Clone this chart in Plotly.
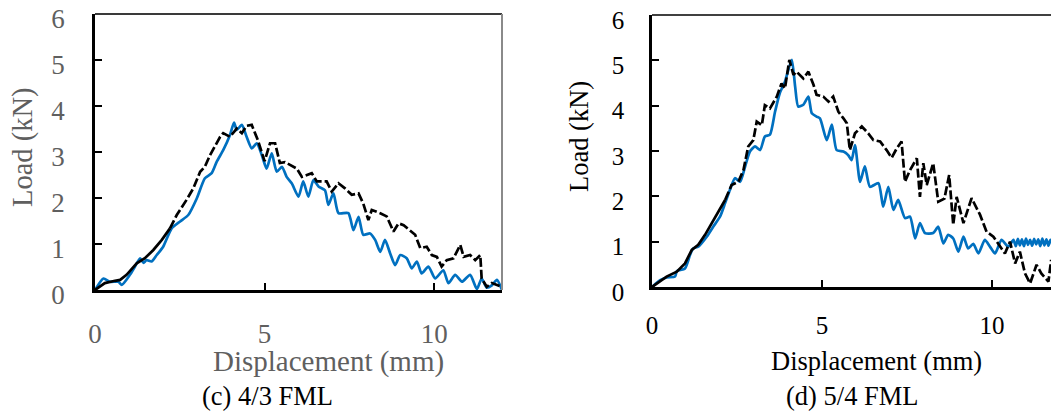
import plotly.graph_objects as go

# ---------------- data: panel (c) 4/3 FML ----------------
c_black_x = [0, 0.29, 0.59, 0.74, 0.93, 1.23, 1.47, 1.72, 1.97, 2.21, 2.41, 2.7, 2.9, 3.1, 3.24, 3.39,
             3.54, 3.69, 3.78, 3.98, 4.18, 4.33, 4.47, 4.62, 4.8, 5.0, 5.16, 5.31, 5.45, 5.6, 5.75, 5.95,
             6.1, 6.39, 6.54, 6.83, 6.98, 7.18, 7.37, 7.57, 7.77, 7.91, 8.06, 8.16, 8.41, 8.6, 8.8, 8.95,
             9.1, 9.29, 9.44, 9.59, 9.78, 9.93, 10.08, 10.22, 10.37, 10.57, 10.77, 10.87, 11.06, 11.21,
             11.36, 11.4, 11.55, 11.7, 11.85, 12.0]
c_black_y = [0, 0.15, 0.2, 0.22, 0.33, 0.58, 0.69, 0.87, 1.09, 1.34, 1.63, 1.96, 2.21, 2.57, 2.68, 2.93,
             3.12, 3.33, 3.41, 3.33, 3.51, 3.41, 3.57, 3.59, 3.26, 2.8, 3.19, 3.19, 2.76, 2.78, 2.72, 2.64,
             2.46, 2.54, 2.36, 2.36, 2.14, 2.32, 2.21, 2.07, 2.1, 1.88, 1.52, 1.74, 1.67, 1.6, 1.27, 1.45,
             1.41, 1.3, 1.2, 0.91, 0.94, 0.76, 0.72, 0.51, 0.65, 0.69, 0.98, 0.72, 0.76, 0.65,
             0.76, 0.25, 0.07, 0.15, 0.11, 0.07]
c_blue_x = [0, 0.25, 0.44, 0.69, 0.79, 1.03, 1.18, 1.33, 1.43, 1.52, 1.67, 1.82, 2.01, 2.26, 2.51, 2.75,
            3.0, 3.24, 3.44, 3.59, 3.78, 3.98, 4.1, 4.18, 4.33, 4.47, 4.62, 4.77, 4.92, 5.06, 5.21, 5.36,
            5.51, 5.65, 5.8, 6.0, 6.14, 6.29, 6.44, 6.59, 6.78, 6.88, 7.03, 7.18, 7.47, 7.62, 7.77, 7.91,
            8.11, 8.26, 8.41, 8.55, 8.7, 8.85, 9.0, 9.19, 9.34, 9.49, 9.63, 9.83, 10.03, 10.27, 10.42,
            10.62, 10.82, 11.06, 11.26, 11.4, 11.55, 11.7, 11.85, 12.0]
c_blue_y = [0, 0.25, 0.18, 0.18, 0.11, 0.33, 0.51, 0.69, 0.59, 0.65, 0.62, 0.76, 0.94, 1.34, 1.49, 1.63,
            1.99, 2.43, 2.54, 2.79, 3.04, 3.37, 3.64, 3.48, 3.59, 3.33, 3.08, 3.19, 2.93, 2.64, 2.97, 2.57,
            2.68, 2.46, 2.32, 2.03, 2.36, 2.03, 2.39, 2.25, 2.17, 1.85, 2.1, 1.67, 1.67, 1.3, 1.59, 1.2,
            1.23, 1.09, 0.83, 1.09, 0.8, 0.54, 0.76, 0.69, 0.47, 0.62, 0.36, 0.51, 0.25, 0.43, 0.15,
            0.33, 0.18, 0.33, 0.02, 0.25, 0.05, 0.1, 0.22, 0.0]

# ---------------- data: panel (d) 5/4 FML ----------------
d_black_x = [0, 0.43, 0.73, 0.97, 1.17, 1.36, 1.56, 1.75, 1.95, 2.15, 2.34, 2.54, 2.69, 2.83, 2.98, 3.08,
             3.23, 3.32, 3.47, 3.67, 3.81, 3.91, 4.04, 4.16, 4.25, 4.45, 4.6, 4.75, 4.84, 5.04, 5.19, 5.33,
             5.48, 5.63, 5.73, 5.82, 5.97, 6.17, 6.36, 6.51, 6.71, 6.9, 7.05, 7.2, 7.34, 7.44, 7.59, 7.79,
             7.88, 7.98, 8.08, 8.27, 8.42, 8.6, 8.74, 8.86, 8.96, 9.16, 9.4, 9.65, 9.84, 10.04, 10.24,
             10.38, 10.53, 10.68, 10.82, 10.97, 11.12, 11.31, 11.45, 11.66, 11.74]
d_black_y = [0, 0.23, 0.34, 0.52, 0.82, 0.93, 1.15, 1.4, 1.66, 1.92, 2.25, 2.32, 2.58, 3.1, 3.24, 3.65,
             3.57, 4.01, 3.94, 4.2, 4.49, 4.38, 5.01, 4.68, 4.75, 4.6, 4.75, 4.46, 4.24, 4.2, 4.09, 4.2,
             3.87, 3.72, 3.61, 3.02, 3.39, 3.54, 3.39, 3.24, 3.21, 3.02, 2.85, 3.06, 3.21, 2.32, 2.58, 2.84,
             1.99, 2.73, 2.25, 2.73, 1.88, 1.95, 2.47, 1.37, 1.99, 1.41, 1.96, 1.59, 1.22, 1.11, 0.89,
             0.74, 1.0, 0.52, 0.78, 0.3, 0.08, 0.49, 0.3, 0.12, 0.6]
d_blue_x = [0, 0.24, 0.43, 0.68, 0.73, 0.97, 1.12, 1.21, 1.36, 1.61, 1.8, 2.0, 2.15, 2.29, 2.44, 2.59,
            2.74, 2.88, 3.03, 3.18, 3.32, 3.47, 3.62, 3.76, 3.91, 4.11, 4.21, 4.3, 4.45, 4.6, 4.7, 4.84,
            4.94, 5.14, 5.29, 5.43, 5.63, 5.77, 5.87, 5.97, 6.12, 6.26, 6.41, 6.66, 6.8, 6.95, 7.1, 7.24,
            7.44, 7.59, 7.74, 7.88, 8.03, 8.27, 8.42, 8.57, 8.71, 8.86, 9.01, 9.16, 9.3, 9.45, 9.6, 9.79,
            9.94, 10.09, 10.28, 10.48, 10.63, 10.7, 10.76, 10.82, 10.88, 10.94, 11.0, 11.06, 11.12,
            11.18, 11.24, 11.3, 11.36, 11.42, 11.48, 11.54, 11.6, 11.66, 11.72, 11.78]
d_blue_y = [0, 0.15, 0.21, 0.23, 0.35, 0.41, 0.71, 0.85, 0.89, 1.11, 1.33, 1.55, 1.85, 2.14, 2.4, 2.32,
            2.66, 2.99, 3.1, 3.02, 3.32, 3.36, 3.87, 4.28, 4.53, 5.01, 4.42, 3.98, 4.02, 4.2, 3.83, 3.76,
            3.72, 3.24, 3.58, 3.02, 2.99, 2.91, 2.8, 3.13, 2.32, 2.66, 2.21, 2.29, 1.77, 2.21, 1.7, 1.92,
            1.52, 1.55, 1.07, 1.41, 1.19, 1.19, 1.33, 0.96, 1.15, 1.07, 0.78, 1.11, 0.85, 0.95, 0.74, 1.04,
            0.89, 0.74, 1.04, 0.89, 1.04, 0.9, 1.06, 0.92, 1.05, 0.9, 1.07, 0.93, 1.04,
            0.91, 1.06, 0.94, 1.05, 0.9, 1.07, 0.92, 1.05, 0.91, 1.04, 0.95]

tick_vals_x = [0, 5, 10]
tick_text_x = ["0", "5", "10"]
tick_vals_y = [0, 1, 2, 3, 4, 5, 6]
tick_text_y = ["0", "1", "2", "3", "4", "5", "6"]

x_title = "Displacement (mm)"
y_title = "Load (kN)"
caption_c = "(c) 4/3 FML"
caption_d = "(d) 5/4 FML"

BLUE = "#0070C0"
GRAY = "#5f5f5f"
FONT = "Liberation Serif, Times New Roman, serif"
SOLID_UNTIL = 2.25  # black curve drawn solid at start, dashed afterwards

fig = go.Figure()


def add_black(xs, ys, xa, ya):
    k = max(i for i, v in enumerate(xs) if v <= SOLID_UNTIL)
    fig.add_trace(go.Scatter(x=xs[:k + 1], y=ys[:k + 1], mode="lines", xaxis=xa, yaxis=ya,
                             line=dict(color="black", width=2.7), showlegend=False))
    fig.add_trace(go.Scatter(x=xs[k:], y=ys[k:], mode="lines", xaxis=xa, yaxis=ya,
                             line=dict(color="black", width=2.7, dash="9px,3px"), showlegend=False))


def add_blue(xs, ys, xa, ya):
    fig.add_trace(go.Scatter(x=xs, y=ys, mode="lines", xaxis=xa, yaxis=ya,
                             line=dict(color=BLUE, width=2.7, shape="spline", smoothing=0.6),
                             showlegend=False))


add_blue(c_blue_x, c_blue_y, "x", "y")
add_black(c_black_x, c_black_y, "x", "y")
add_blue(d_blue_x, d_blue_y, "x2", "y2")
add_black(d_black_x, d_black_y, "x2", "y2")

W, H = 1051, 412
# plot areas in pixels
L1, R1, T1, B1 = 95, 502, 14, 290
L2, R2, T2, B2 = 652, 1051, 15, 287


def px(x):
    return x / W


def py(y):
    return (H - y) / H


def xaxis_cfg(dom, rng, color, size, standoff):
    return dict(domain=dom, range=rng, tickvals=tick_vals_x, ticktext=tick_text_x,
                ticks="inside", ticklen=7, tickwidth=2, tickcolor="black",
                showline=True, linewidth=2.6, linecolor="black", showgrid=False, zeroline=False,
                tickfont=dict(family=FONT, size=size, color=color), ticklabelstandoff=standoff,
                ticklabeloverflow="allow", automargin=False, fixedrange=True)


def yaxis_cfg(dom, anchor, color, size, standoff):
    return dict(domain=dom, range=[0, 6], tickvals=tick_vals_y, ticktext=tick_text_y, anchor=anchor,
                ticks="inside", ticklen=7, tickwidth=2, tickcolor="black",
                showline=True, linewidth=2.6, linecolor="black", showgrid=False, zeroline=False,
                tickfont=dict(family=FONT, size=size, color=color), ticklabelstandoff=standoff,
                ticklabelshift=5, ticklabeloverflow="allow", automargin=False, fixedrange=True)


fig.update_layout(
    width=W, height=H, margin=dict(l=0, r=0, t=0, b=0, autoexpand=False),
    paper_bgcolor="white", plot_bgcolor="white",
    xaxis=xaxis_cfg([px(L1), px(R1)], [0, 12], GRAY, 27, 18),
    yaxis=yaxis_cfg([py(B1), py(T1)], "x", GRAY, 27, 22),
    xaxis2=dict(xaxis_cfg([px(L2), px(R2)], [0, (R2 - L2) / 34.0], "black", 25, 14), anchor="y2"),
    yaxis2=yaxis_cfg([py(B2), py(T2)], "x2", "black", 25, 20),
    shapes=[
        dict(type="line", xref="paper", yref="paper", x0=px(L1), x1=px(R1), y0=py(T1), y1=py(T1),
             line=dict(color="#3a3a3a", width=2)),
        dict(type="line", xref="paper", yref="paper", x0=px(R1), x1=px(R1), y0=py(B1), y1=py(T1),
             line=dict(color="#8a8a8a", width=2)),
        dict(type="line", xref="paper", yref="paper", x0=px(L2), x1=1.0, y0=py(T2), y1=py(T2),
             line=dict(color="black", width=1.6)),
    ],
    annotations=[
        dict(text=y_title, x=px(23), y=py(147), xref="paper", yref="paper", textangle=-90,
             showarrow=False, xanchor="center", yanchor="middle",
             font=dict(family=FONT, size=28.5, color=GRAY)),
        dict(text=x_title, x=px(328), y=py(361), xref="paper", yref="paper",
             showarrow=False, xanchor="center", yanchor="middle",
             font=dict(family=FONT, size=29, color=GRAY)),
        dict(text=caption_c, x=px(267.5), y=py(396), xref="paper", yref="paper",
             showarrow=False, xanchor="center", yanchor="middle",
             font=dict(family=FONT, size=26.5, color="black")),
        dict(text=y_title, x=px(579), y=py(137), xref="paper", yref="paper", textangle=-90,
             showarrow=False, xanchor="center", yanchor="middle",
             font=dict(family=FONT, size=26.5, color="black")),
        dict(text=x_title, x=px(876), y=py(361), xref="paper", yref="paper",
             showarrow=False, xanchor="center", yanchor="middle",
             font=dict(family=FONT, size=26.5, color="black")),
        dict(text=caption_d, x=px(852), y=py(396), xref="paper", yref="paper",
             showarrow=False, xanchor="center", yanchor="middle",
             font=dict(family=FONT, size=26.5, color="black")),
    ],
)

fig.write_html("out.html", config={"displayModeBar": False},
               post_script="document.body.style.margin='0';document.body.style.overflow='hidden';")
